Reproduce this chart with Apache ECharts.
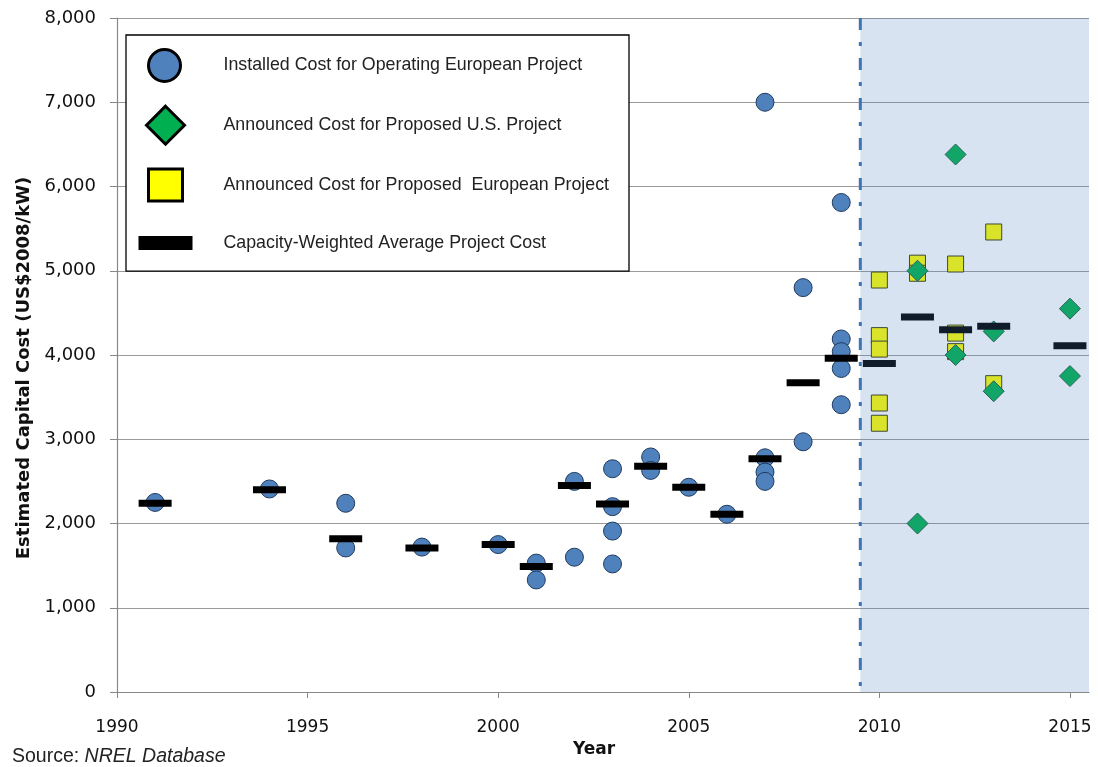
<!DOCTYPE html>
<html>
<head>
<meta charset="utf-8">
<title>Estimated Capital Cost</title>
<script src="https://cdn.jsdelivr.net/npm/echarts@6/dist/echarts.min.js"></script>
<style>
html, body { margin: 0; padding: 0; background: #fff; }
#chart { width: 1098px; height: 767px; }
</style>
</head>
<body>
<div id="chart"></div>
<script>
// installed cost, operating European projects (blue circles)
var operatingYears = [1991, 1994, 1996, 1996, 1998, 2000, 2001, 2001, 2002, 2002,
  2003, 2003, 2003, 2003, 2004, 2004, 2005, 2006, 2007, 2007, 2007, 2007,
  2008, 2008, 2009, 2009, 2009, 2009, 2009];
var operatingCost = [2250, 2410, 2240, 1710, 1720, 1750, 1530, 1330, 2500, 1600,
  2650, 2200, 1910, 1520, 2790, 2630, 2430, 2110, 7000, 2780, 2610, 2500,
  4800, 2970, 5810, 4190, 4040, 3840, 3410];

// announced cost, proposed U.S. projects (green diamonds)
var usYears = [2011, 2011, 2012, 2012, 2013, 2013, 2015, 2015];
var usCost = [5000, 2000, 6380, 4000, 4280, 3570, 4550, 3750];

// announced cost, proposed European projects (yellow squares)
var euYears = [2010, 2010, 2010, 2010, 2010, 2011, 2011, 2012, 2012, 2012, 2013, 2013];
var euCost = [4890, 4230, 4070, 3430, 3190, 5090, 4970, 5080, 4260, 4040, 5460, 3660];

// capacity-weighted average (black bars)
var avgYears = [1991, 1994, 1996, 1998, 2000, 2001, 2002, 2003, 2004, 2005, 2006,
  2007, 2008, 2009, 2010, 2011, 2012, 2013, 2015];
var avgCost = [2240, 2400, 1820, 1710, 1750, 1490, 2450, 2230, 2680, 2430, 2110,
  2770, 3670, 3960, 3900, 4450, 4300, 4340, 4110];

// x tick labels
var yearTicks = [1990, 1995, 2000, 2005, 2010, 2015];

// projected period (shaded)
var projectedRange = [[2009.5, 2015.5]];

var seriesNames = [
  'Installed Cost for Operating European Project',
  'Announced Cost for Proposed U.S. Project',
  'Announced Cost for Proposed  European Project',
  'Capacity-Weighted Average Project Cost'
];

function pairs(xs, ys) {
  return xs.map(function (x, i) { return [x, ys[i]]; });
}

function thousands(v) {
  return String(v).replace(/\B(?=(\d{3})+(?!\d))/g, ',');
}

// legend icons, drawn inside a 54x40 box
var box = 'M0,0L0,0M54,40L54,40';
var iconCircle = 'path://' + box + 'M10,20A16,16 0 1 1 42,20A16,16 0 1 1 10,20Z';
var iconDiamond = 'path://' + box + 'M27,1L46,20L27,39L8,20Z';
var iconSquare = 'path://' + box + 'M10,4L44,4L44,36L10,36Z';
var iconBar = 'path://' + box + 'M0,13L54,13L54,27L0,27Z';

var chart = echarts.init(document.getElementById('chart'));

chart.setOption({
  animation: false,
  textStyle: { fontFamily: 'DejaVu Sans' },
  grid: { left: 117, right: 9, top: 18, bottom: 75 },
  legend: {
    orient: 'vertical',
    left: 126,
    top: 35,
    padding: [9, 20, 8, 11],
    itemWidth: 54,
    itemHeight: 40,
    itemGap: 16.7,
    backgroundColor: '#fff',
    borderColor: '#000',
    borderWidth: 1.3,
    borderRadius: 0,
    selectedMode: false,
    itemStyle: { borderColor: '#000', borderWidth: 3 },
    textStyle: {
      fontFamily: 'Liberation Sans',
      fontSize: 17.8,
      color: '#222',
      padding: [0, 0, 0, 26]
    },
    data: [
      { name: seriesNames[0], icon: iconCircle },
      { name: seriesNames[1], icon: iconDiamond },
      { name: seriesNames[2], icon: iconSquare, itemStyle: { color: '#ffff00' } },
      { name: seriesNames[3], icon: iconBar, itemStyle: { borderWidth: 0 } }
    ]
  },
  xAxis: {
    type: 'value',
    min: 1990,
    max: 2015.5,
    interval: 5,
    name: 'Year',
    nameLocation: 'middle',
    nameGap: 44,
    nameTextStyle: { fontSize: 17, fontWeight: 'bold', color: '#111', padding: [0, 18, 0, 0] },
    splitLine: { show: false },
    axisLine: { lineStyle: { color: '#888', width: 1.2 } },
    axisTick: { show: true, length: 6, lineStyle: { color: '#888' }, customValues: yearTicks },
    axisLabel: {
      margin: 27,
      fontSize: 17,
      color: '#111',
      customValues: yearTicks,
      formatter: function (v) { return String(v); }
    }
  },
  yAxis: {
    type: 'value',
    min: 0,
    max: 8000,
    interval: 1000,
    name: 'Estimated Capital Cost (US$2008/kW)',
    nameLocation: 'middle',
    nameGap: 80,
    nameTextStyle: { fontSize: 18, fontWeight: 'bold', color: '#111', padding: [0, 26, 0, 0] },
    axisLine: { show: true, lineStyle: { color: '#888', width: 1.2 } },
    axisTick: { show: true, length: 7, lineStyle: { color: '#888' } },
    splitLine: { lineStyle: { color: '#9a9a9a', width: 1 } },
    axisLabel: {
      margin: 21,
      fontSize: 18,
      color: '#111',
      formatter: thousands
    }
  },
  series: [
    {
      name: seriesNames[0],
      type: 'scatter',
      symbol: 'circle',
      symbolSize: 18,
      z: 2,
      itemStyle: { color: '#4f81bd', borderColor: '#1f3a5f', borderWidth: 1, opacity: 1 },
      data: pairs(operatingYears, operatingCost)
    },
    {
      name: seriesNames[2],
      type: 'scatter',
      symbol: 'rect',
      symbolSize: 16,
      z: 3,
      itemStyle: { color: '#ffff00', borderColor: '#3a3a10', borderWidth: 1, opacity: 1 },
      data: pairs(euYears, euCost)
    },
    {
      name: seriesNames[1],
      type: 'scatter',
      symbol: 'diamond',
      symbolSize: 21,
      z: 4,
      itemStyle: { color: '#00b050', borderColor: '#1d5a3c', borderWidth: 1, opacity: 1 },
      data: pairs(usYears, usCost)
    },
    {
      name: seriesNames[3],
      type: 'scatter',
      symbol: 'rect',
      symbolSize: [33, 7],
      z: 5,
      itemStyle: { color: '#000', opacity: 1 },
      data: pairs(avgYears, avgCost)
    },
    {
      // translucent projected-period overlay plus dash-dot divider
      type: 'custom',
      z: 10,
      silent: true,
      encode: { x: [0, 1] },
      renderItem: function (params, api) {
        var tl = api.coord([api.value(0), 8000]);
        var br = api.coord([api.value(1), 0]);
        return {
          type: 'group',
          children: [
            {
              type: 'rect',
              shape: { x: tl[0], y: tl[1], width: br[0] - tl[0], height: br[1] - tl[1] },
              style: { fill: 'rgba(79,129,189,0.22)' }
            },
            {
              type: 'line',
              shape: { x1: tl[0], y1: tl[1], x2: tl[0], y2: br[1] },
              style: { stroke: '#3d74b5', lineWidth: 3, lineDash: [12, 12, 4, 12] }
            }
          ]
        };
      },
      data: projectedRange
    }
  ],
  graphic: [
    {
      type: 'text',
      left: 12,
      top: 747,
      style: {
        text: '{a|Source: }{b|NREL Database}',
        rich: {
          a: { fontFamily: 'Liberation Sans', fontSize: 19.5, fill: '#222' },
          b: { fontFamily: 'Liberation Sans', fontSize: 19.5, fontStyle: 'italic', fill: '#222' }
        }
      }
    }
  ]
});
</script>
</body>
</html>
